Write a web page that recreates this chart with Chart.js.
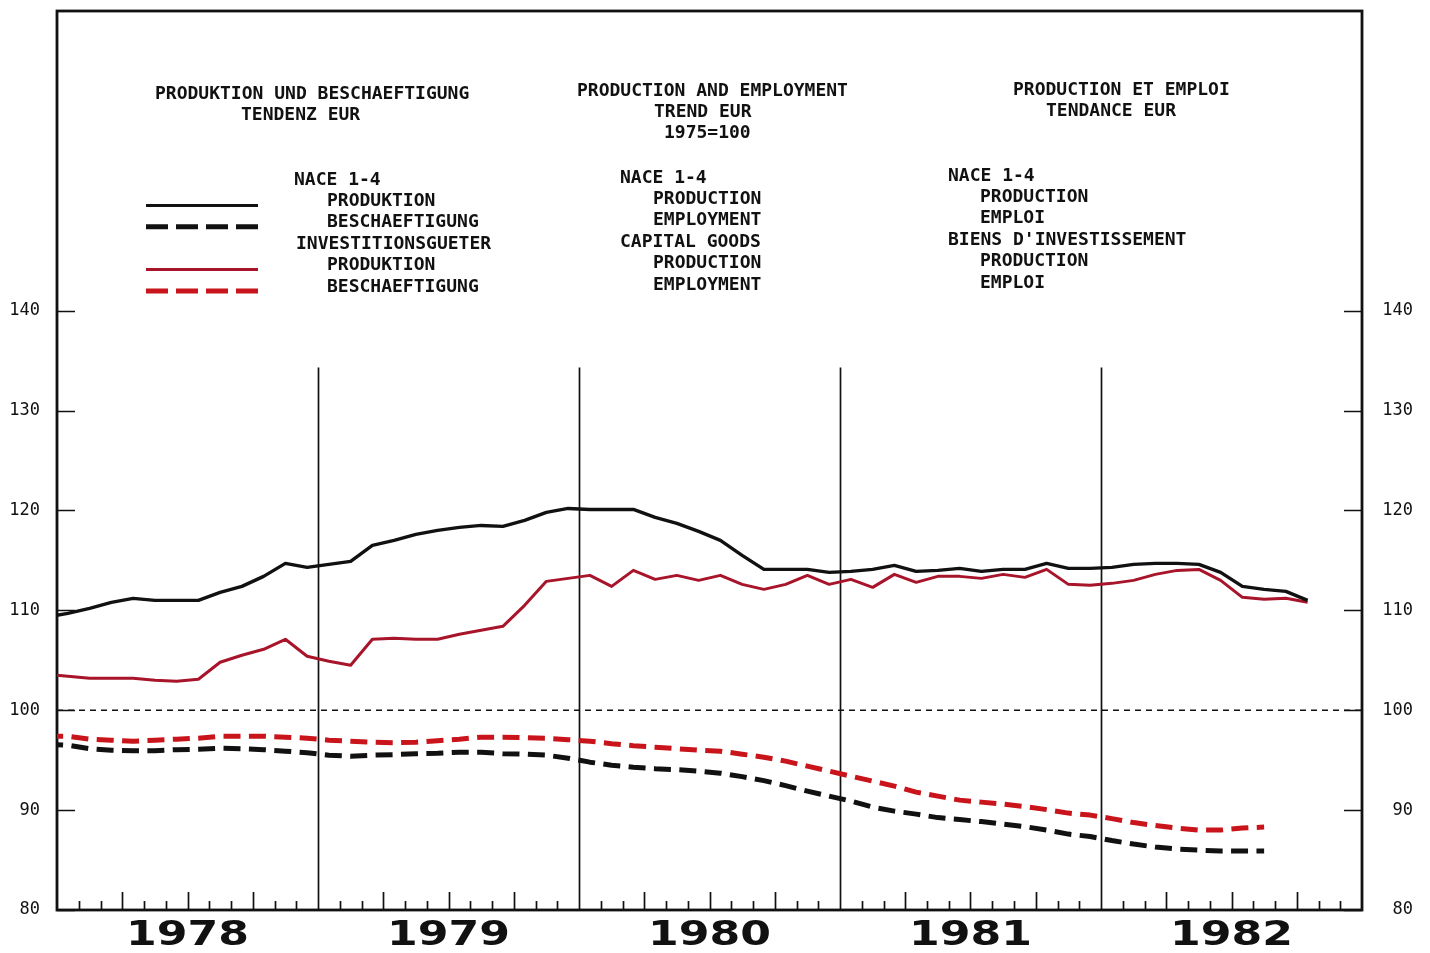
<!DOCTYPE html>
<html>
<head>
<meta charset="utf-8">
<script src="https://cdn.jsdelivr.net/npm/chart.js@4.4.1/dist/chart.umd.min.js"></script>
<style>
  html, body { margin: 0; padding: 0; background: #fff; }
  canvas { display: block; }
</style>
</head>
<body>
<canvas id="chart" width="1430" height="953"></canvas>
<script>
'use strict';

// ------------------------------- Data ------------------------------//
// monthly values, first entry is Dec 1977 (clipped at the left edge), then Jan 1978 ...
const years = ['1978', '1979', '1980', '1981', '1982'];
const yTicks = [80, 90, 100, 110, 120, 130, 140];

const naceProduction = [
  109.3,
  109.7, 110.2, 110.8, 111.2, 111.0, 111.0, 111.0, 111.8, 112.4, 113.4, 114.7, 114.3,
  114.6, 114.9, 116.5, 117.0, 117.6, 118.0, 118.3, 118.5, 118.4, 119.0, 119.8, 120.2,
  120.1, 120.1, 120.1, 119.3, 118.7, 117.9, 117.0, 115.5, 114.1, 114.1, 114.1, 113.8,
  113.9, 114.1, 114.5, 113.9, 114.0, 114.2, 113.9, 114.1, 114.1, 114.7, 114.2, 114.2,
  114.3, 114.6, 114.7, 114.7, 114.6, 113.8, 112.4, 112.1, 111.9, 111.0
];
const naceEmployment = [
  96.6,
  96.5, 96.15, 96.0, 95.95, 95.95, 96.05, 96.1, 96.2, 96.15, 96.05, 95.9, 95.75,
  95.5, 95.4, 95.5, 95.55, 95.65, 95.7, 95.8, 95.8, 95.65, 95.6, 95.5, 95.2,
  94.8, 94.5, 94.3, 94.15, 94.05, 93.9, 93.7, 93.35, 92.95, 92.45, 91.9, 91.4,
  90.9, 90.3, 89.9, 89.6, 89.25, 89.05, 88.85, 88.6, 88.35, 88.0, 87.6, 87.35,
  86.95, 86.6, 86.3, 86.1, 86.0, 85.9, 85.9, 85.9
];
const capitalProduction = [
  103.6,
  103.4, 103.2, 103.2, 103.2, 103.0, 102.9, 103.1, 104.8, 105.5, 106.1, 107.1, 105.4,
  104.9, 104.5, 107.1, 107.2, 107.1, 107.1, 107.6, 108.0, 108.4, 110.5, 112.9, 113.2,
  113.5, 112.4, 114.0, 113.1, 113.5, 113.0, 113.5, 112.6, 112.1, 112.6, 113.5, 112.6,
  113.1, 112.3, 113.6, 112.8, 113.4, 113.4, 113.2, 113.6, 113.3, 114.1, 112.6, 112.5,
  112.7, 113.0, 113.6, 114.0, 114.1, 113.0, 111.3, 111.1, 111.2, 110.8
];
const capitalEmployment = [
  97.4,
  97.4, 97.1, 97.0, 96.9, 97.0, 97.1, 97.2, 97.4, 97.4, 97.4, 97.3, 97.2,
  97.0, 96.9, 96.8, 96.75, 96.8, 96.95, 97.1, 97.3, 97.3, 97.25, 97.2, 97.05,
  96.9, 96.65, 96.45, 96.3, 96.15, 96.0, 95.9, 95.6, 95.3, 94.9, 94.4, 93.9,
  93.4, 92.9, 92.4, 91.8, 91.4, 91.0, 90.8, 90.6, 90.35, 90.05, 89.7, 89.5,
  89.15, 88.75, 88.45, 88.2, 88.0, 88.0, 88.2, 88.3
];

const baseLine = 100;
const separatorTop = 134.3;

// ------------------------------- Texts ------------------------------//
const textBlocks = [
  { x: 155, y: 94, lines: [[0, 'PRODUKTION UND BESCHAEFTIGUNG'], [86, 'TENDENZ EUR']] },
  { x: 294, y: 180, lines: [[0, 'NACE 1-4'], [33, 'PRODUKTION'], [33, 'BESCHAEFTIGUNG'],
    [2, 'INVESTITIONSGUETER'], [33, 'PRODUKTION'], [33, 'BESCHAEFTIGUNG']] },
  { x: 577, y: 91, lines: [[0, 'PRODUCTION AND EMPLOYMENT'], [77, 'TREND EUR'], [87, '1975=100']] },
  { x: 620, y: 178, lines: [[0, 'NACE 1-4'], [33, 'PRODUCTION'], [33, 'EMPLOYMENT'],
    [0, 'CAPITAL GOODS'], [33, 'PRODUCTION'], [33, 'EMPLOYMENT']] },
  { x: 1013, y: 90, lines: [[0, 'PRODUCTION ET EMPLOI'], [33, 'TENDANCE EUR']] },
  { x: 948, y: 176, lines: [[0, 'NACE 1-4'], [32, 'PRODUCTION'], [32, 'EMPLOI'],
    [0, "BIENS D'INVESTISSEMENT"], [32, 'PRODUCTION'], [32, 'EMPLOI']] }
];

const BLACK = '#111111';
const RED_LINE = '#a8142a';
const RED_DASH = '#c8141a';
const LINE_HEIGHT = 21.4;
const TEXT_FONT = 'bold 18px "DejaVu Sans Mono"';

// ------------------------------- Helpers ------------------------------//
function toPoints(values) {
  return values.map((v, k) => ({ x: k - 0.5, y: v }));
}

function fixTicks(scale) {
  scale.ticks = yTicks.map(v => ({ value: v }));
}

function noPadding(scale) {
  scale.paddingTop = 0;
  scale.paddingBottom = 0;
  scale.paddingLeft = 0;
  scale.paddingRight = 0;
}

// ------------------------------- Plugin ------------------------------//
const framePlugin = {
  id: 'frame',
  beforeDraw(chart) {
    const ctx = chart.ctx;
    ctx.save();
    ctx.fillStyle = '#ffffff';
    ctx.fillRect(0, 0, chart.width, chart.height);
    ctx.restore();
  },
  beforeDatasetsDraw(chart) {
    const ctx = chart.ctx;
    const area = chart.chartArea;
    const xs = chart.scales.x;
    const ys = chart.scales.y;
    ctx.save();
    ctx.strokeStyle = BLACK;

    // dashed base line 1975=100
    ctx.lineWidth = 1.6;
    ctx.setLineDash([6, 5]);
    ctx.beginPath();
    ctx.moveTo(area.left, ys.getPixelForValue(baseLine));
    ctx.lineTo(area.right, ys.getPixelForValue(baseLine));
    ctx.stroke();
    ctx.setLineDash([]);

    // year separators and month ticks
    ctx.lineWidth = 1.7;
    for (let m = 1; m < 60; m++) {
      const px = Math.round(xs.getPixelForValue(m)) + 0.5;
      ctx.beginPath();
      if (m % 12 === 0) {
        ctx.moveTo(px, ys.getPixelForValue(separatorTop));
      } else {
        ctx.moveTo(px, area.bottom - (m % 3 === 0 ? 18 : 9));
      }
      ctx.lineTo(px, area.bottom);
      ctx.stroke();
    }

    // y ticks, inside on both sides
    for (const v of yTicks) {
      const py = Math.round(ys.getPixelForValue(v)) + 0.5;
      ctx.beginPath();
      ctx.moveTo(area.left, py);
      ctx.lineTo(area.left + 18, py);
      ctx.moveTo(area.right, py);
      ctx.lineTo(area.right - 18, py);
      ctx.stroke();
    }

    // frame
    ctx.lineWidth = 2.8;
    ctx.strokeRect(area.left, area.top, area.right - area.left, area.bottom - area.top);
    ctx.restore();
  },
  afterDraw(chart) {
    const ctx = chart.ctx;
    const area = chart.chartArea;
    const xs = chart.scales.x;
    ctx.save();

    // year labels under the axis
    ctx.fillStyle = BLACK;
    ctx.font = 'bold 34px "DejaVu Sans"';
    ctx.textAlign = 'center';
    ctx.textBaseline = 'middle';
    years.forEach((yr, i) => {
      const px = xs.getPixelForValue(i * 12 + 6);
      ctx.save();
      ctx.translate(px, area.bottom + 26);
      ctx.scale(1.3, 1);
      ctx.fillText(yr, 0, 0);
      ctx.restore();
    });

    // header and legend texts
    ctx.font = TEXT_FONT;
    ctx.textAlign = 'left';
    for (const block of textBlocks) {
      block.lines.forEach(([indent, text], r) => {
        ctx.fillText(text, block.x + indent, block.y + r * LINE_HEIGHT);
      });
    }

    // legend samples
    const samples = [
      { row: 1, color: BLACK, width: 3, dash: [] },
      { row: 2, color: BLACK, width: 5, dash: [22, 8] },
      { row: 4, color: RED_LINE, width: 3, dash: [] },
      { row: 5, color: RED_DASH, width: 5, dash: [22, 8] }
    ];
    const legendTop = textBlocks[1].y;
    for (const s of samples) {
      const py = legendTop + s.row * LINE_HEIGHT + 4;
      ctx.strokeStyle = s.color;
      ctx.lineWidth = s.width;
      ctx.setLineDash(s.dash);
      ctx.beginPath();
      ctx.moveTo(146, py);
      ctx.lineTo(258, py);
      ctx.stroke();
    }
    ctx.restore();
  }
};

// ------------------------------- Chart ------------------------------//
const ctx = document.getElementById('chart').getContext('2d');

const lineChart = new Chart(ctx, {
  type: 'line',
  data: {
    datasets: [
      {
        label: 'NACE 1-4 Produktion',
        data: toPoints(naceProduction),
        borderColor: BLACK,
        borderWidth: 3.4
      },
      {
        label: 'NACE 1-4 Beschaeftigung',
        data: toPoints(naceEmployment),
        borderColor: BLACK,
        borderWidth: 5,
        borderDash: [17, 8.4]
      },
      {
        label: 'Investitionsgueter Produktion',
        data: toPoints(capitalProduction),
        borderColor: RED_LINE,
        borderWidth: 3
      },
      {
        label: 'Investitionsgueter Beschaeftigung',
        data: toPoints(capitalEmployment),
        borderColor: RED_DASH,
        borderWidth: 5,
        borderDash: [17, 8.4]
      }
    ]
  },
  options: {
    responsive: false,
    animation: false,
    events: [],
    clip: 0,
    elements: {
      point: { radius: 0 },
      line: { tension: 0, borderCapStyle: 'butt', borderJoinStyle: 'round' }
    },
    layout: { padding: { top: 11, left: 0, right: 17, bottom: 0 } },
    plugins: {
      legend: { display: false },
      tooltip: { enabled: false },
      title: { display: false }
    },
    scales: {
      x: {
        type: 'linear',
        min: 0,
        max: 60,
        grid: { display: false },
        border: { display: false },
        ticks: { display: false },
        afterFit(scale) { scale.height = 43; noPadding(scale); }
      },
      y: {
        position: 'left',
        min: 80,
        max: 170,
        afterBuildTicks: fixTicks,
        grid: { display: false, drawTicks: false },
        border: { display: false },
        ticks: {
          padding: 17,
          color: BLACK,
          font: { family: 'DejaVu Sans Mono', size: 17 }
        },
        afterFit(scale) { scale.width = 57; noPadding(scale); }
      },
      y2: {
        position: 'right',
        min: 80,
        max: 170,
        afterBuildTicks: fixTicks,
        grid: { display: false, drawTicks: false },
        border: { display: false },
        ticks: {
          padding: 3,
          crossAlign: 'far',
          color: BLACK,
          font: { family: 'DejaVu Sans Mono', size: 17 }
        },
        afterFit(scale) { scale.width = 51; noPadding(scale); }
      }
    }
  },
  plugins: [framePlugin]
});
</script>
</body>
</html>
